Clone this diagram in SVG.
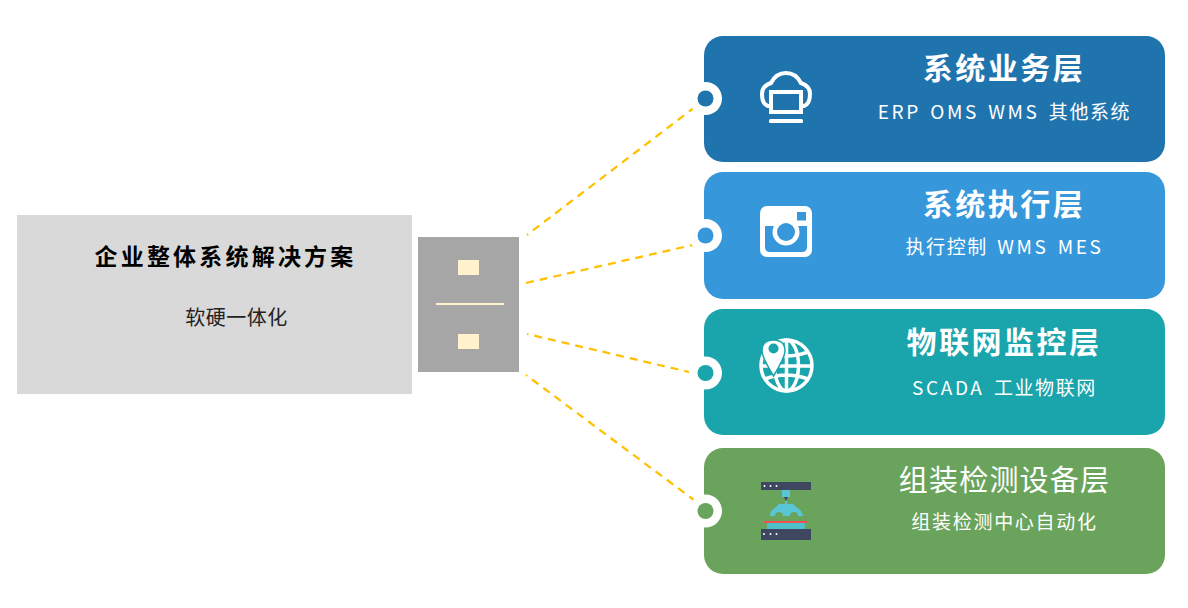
<svg xmlns="http://www.w3.org/2000/svg" width="1188" height="608" viewBox="0 0 1188 608">
<style>
text{font-family:"Noto Sans CJK SC","Noto Sans",sans-serif;text-anchor:middle}
.t{fill:#fff;font-size:30px;font-weight:700;letter-spacing:2.500px}
.s{fill:#fff;font-size:19px;letter-spacing:1.600px}
.l{letter-spacing:2.600px;word-spacing:2.500px}
.c{fill:none;stroke:#ffc000;stroke-width:2.250;stroke-dasharray:8 6}
.d{stroke-dashoffset:6.500}
.w{fill:none;stroke:#fff;stroke-width:4}
.cream{fill:#fff2cc}
</style>
<rect width="1188" height="608" fill="#fff"/>
<g id="connectors">
<path class="c d" d="M527 235L693 108.500"/>
<path class="c" d="M526 283L697 244"/>
<path class="c d" d="M527 334L689 372"/>
<path class="c d" d="M526 375L694 500"/>
</g>
<g id="root">
<rect x="17" y="215" width="395" height="179" fill="#d9d9d9"/>
<text x="225.500" y="265" font-size="23" font-weight="700" letter-spacing="3.200" fill="#000">企业整体系统解决方案</text>
<text x="236.500" y="325" font-size="20" letter-spacing="0.500" fill="#222">软硬一体化</text>
</g>
<g id="cabinet">
<rect x="418" y="237" width="101" height="135" fill="#a6a6a6"/>
<rect class="cream" x="458" y="260" width="21" height="15"/>
<rect class="cream" x="436" y="303" width="68" height="2"/>
<rect class="cream" x="458" y="334" width="21" height="15"/>
</g>
<g id="layer1">
<rect x="704" y="36" width="461" height="126" rx="19" fill="#2074ae"/>
<circle cx="705.500" cy="98.500" r="16.500" fill="#fff"/><circle cx="705.500" cy="98.500" r="8" fill="#2074ae"/>
<path class="w" d="M770 106H768Q762 104 762 94Q762 86 771 83Q776 73 786 73Q796 73 801 83Q810 86 810 94Q810 104 804 106H802"/>
<rect class="w" x="771" y="92" width="30" height="20"/>
<rect x="769" y="119" width="34" height="4" rx="1.500" fill="#fff"/>
<text class="t" x="1004" y="79">系统业务层</text>
<text class="s" x="1004.500" y="119"><tspan class="l">ERP OMS WMS </tspan>其他系统</text>
</g>
<g id="layer2">
<rect x="704" y="172" width="461" height="127" rx="19" fill="#3797db"/>
<circle cx="705.500" cy="235.500" r="16.500" fill="#fff"/><circle cx="705.500" cy="235.500" r="8" fill="#3797db"/>
<rect x="760" y="206" width="52" height="51" rx="7" fill="#fff"/>
<path d="M765 226H776.500A11.500 11.500 0 0 0 795.500 226H807V247Q807 252 802 252H770Q765 252 765 247Z" fill="#3797db"/>
<circle cx="786" cy="232" r="13.500" fill="#fff"/><circle cx="786" cy="232" r="9" fill="#3797db"/>
<rect x="797" y="212" width="9" height="8.500" fill="#3797db"/>
<text class="t" x="1004" y="215">系统执行层</text>
<text class="s" x="1004.500" y="254">执行控制<tspan class="l"> WMS MES</tspan></text>
</g>
<g id="layer3">
<rect x="704" y="309" width="461" height="126" rx="19" fill="#1aa4ac"/>
<circle cx="705.500" cy="373" r="16.500" fill="#fff"/><circle cx="705.500" cy="373" r="8" fill="#1aa4ac"/>
<g fill="none" stroke="#fff" stroke-width="3.500">
<circle cx="786.500" cy="365.500" r="25.500"/>
<ellipse cx="786.500" cy="365.500" rx="12" ry="25.500"/>
<path d="M786.500 340V391M761 366H812M765 352Q786 360 808 352M765 379Q786 371 808 379"/>
</g>
<path d="M773.500 340Q785 340 785 351Q785 357 773.500 376Q762 357 762 351Q762 340 773.500 340Z" fill="#fff" stroke="#1aa4ac" stroke-width="1.500"/>
<circle cx="773.500" cy="348.500" r="5" fill="#1aa4ac"/>
<text class="t" x="1004" y="353">物联网监控层</text>
<text class="s" x="1004.500" y="395"><tspan class="l">SCADA </tspan>工业物联网</text>
</g>
<g id="layer4">
<rect x="704" y="448" width="461" height="126" rx="19" fill="#6aa35b"/>
<circle cx="705.500" cy="511" r="16.500" fill="#fff"/><circle cx="705.500" cy="511" r="8" fill="#6aa35b"/>
<rect x="761" y="482" width="50" height="8" fill="#3e4660"/>
<rect x="761" y="529" width="50" height="11" fill="#3e4660"/>
<g fill="#fff"><circle cx="764.500" cy="486" r="1"/><circle cx="770.500" cy="486" r="1"/><circle cx="776.500" cy="486" r="1"/><circle cx="764" cy="534" r="1"/><circle cx="770.500" cy="534" r="1"/><circle cx="776.500" cy="534" r="1"/></g>
<rect x="782" y="490" width="8" height="7" fill="#58c6d4"/>
<path d="M784 497H788L786 501Z" fill="#3e4660"/>
<rect x="785" y="501" width="2" height="4" fill="#58c6d4"/>
<path d="M770 516Q770 510 775 508L779 504H793L797 508Q802 510 803 516H798A4 4 0 0 0 790 516H783A4 4 0 0 0 775 516Z" fill="#58c6d4"/>
<rect x="767" y="523" width="38" height="6" fill="#4fc0c9"/>
<rect x="764" y="521" width="44" height="2" fill="#ef5350"/>
<text x="1004.500" y="491" font-size="29" fill="#fff" letter-spacing="1.200">组装检测设备层</text>
<text class="s" x="1004.500" y="529" style="letter-spacing:1.700px">组装检测中心自动化</text>
</g>
</svg>
